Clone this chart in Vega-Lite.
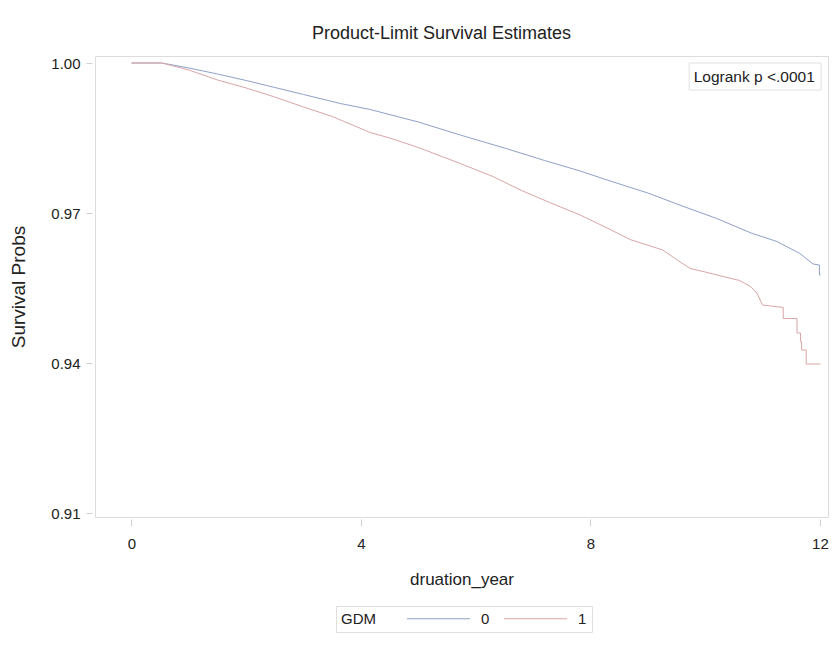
{
  "$schema": "https://vega.github.io/schema/vega-lite/v6.json",
  "width": 733,
  "height": 461,
  "autosize": {"type": "none"},
  "padding": {"left": 95, "top": 56, "right": 7, "bottom": 129},
  "background": "white",
  "config": {
    "font": "Liberation Sans",
    "view": {"stroke": "#dcdcdc", "strokeWidth": 1},
    "axis": {"grid": false, "domain": false, "tickColor": "#d0d0d0", "labelFontSize": 15, "titleFontSize": 17, "titleFontWeight": "normal", "labelColor": "#222", "titleColor": "#222"}
  },
  "title": {"text": "Product-Limit Survival Estimates", "fontSize": 18, "fontWeight": "normal", "color": "#222", "offset": 13, "dx": -20},
  "layer": [
    {
      "data": {"values": [
        {"seq": 1, "year": 0, "surv": 1.0, "GDM": "0"},
        {"seq": 2, "year": 0.53, "surv": 1.0, "GDM": "0"},
        {"seq": 3, "year": 1.0, "surv": 0.999, "GDM": "0"},
        {"seq": 4, "year": 1.5, "surv": 0.9978, "GDM": "0"},
        {"seq": 5, "year": 2.0, "surv": 0.9965, "GDM": "0"},
        {"seq": 6, "year": 2.5, "surv": 0.9951, "GDM": "0"},
        {"seq": 7, "year": 3.0, "surv": 0.9937, "GDM": "0"},
        {"seq": 8, "year": 3.64, "surv": 0.9919, "GDM": "0"},
        {"seq": 9, "year": 4.16, "surv": 0.9907, "GDM": "0"},
        {"seq": 10, "year": 5.0, "surv": 0.9882, "GDM": "0"},
        {"seq": 11, "year": 5.73, "surv": 0.9856, "GDM": "0"},
        {"seq": 12, "year": 6.5, "surv": 0.983, "GDM": "0"},
        {"seq": 13, "year": 7.2, "surv": 0.9805, "GDM": "0"},
        {"seq": 14, "year": 7.82, "surv": 0.9784, "GDM": "0"},
        {"seq": 15, "year": 8.29, "surv": 0.9766, "GDM": "0"},
        {"seq": 16, "year": 9.0, "surv": 0.974, "GDM": "0"},
        {"seq": 17, "year": 9.6, "surv": 0.9714, "GDM": "0"},
        {"seq": 18, "year": 10.2, "surv": 0.9689, "GDM": "0"},
        {"seq": 19, "year": 10.8, "surv": 0.966, "GDM": "0"},
        {"seq": 20, "year": 11.25, "surv": 0.9643, "GDM": "0"},
        {"seq": 21, "year": 11.65, "surv": 0.9619, "GDM": "0"},
        {"seq": 22, "year": 11.88, "surv": 0.9598, "GDM": "0"},
        {"seq": 23, "year": 11.99, "surv": 0.9596, "GDM": "0"},
        {"seq": 24, "year": 11.99, "surv": 0.9576, "GDM": "0"},
        {"seq": 25, "year": 12.01, "surv": 0.9576, "GDM": "0"},
        {"seq": 1, "year": 0, "surv": 1.0, "GDM": "1"},
        {"seq": 2, "year": 0.53, "surv": 1.0, "GDM": "1"},
        {"seq": 3, "year": 1.0, "surv": 0.9986, "GDM": "1"},
        {"seq": 4, "year": 1.5, "surv": 0.9966, "GDM": "1"},
        {"seq": 5, "year": 2.0, "surv": 0.995, "GDM": "1"},
        {"seq": 6, "year": 2.47, "surv": 0.9933, "GDM": "1"},
        {"seq": 7, "year": 3.0, "surv": 0.9912, "GDM": "1"},
        {"seq": 8, "year": 3.5, "surv": 0.9893, "GDM": "1"},
        {"seq": 9, "year": 4.16, "surv": 0.9861, "GDM": "1"},
        {"seq": 10, "year": 4.5, "surv": 0.985, "GDM": "1"},
        {"seq": 11, "year": 5.0, "surv": 0.9831, "GDM": "1"},
        {"seq": 12, "year": 5.73, "surv": 0.9799, "GDM": "1"},
        {"seq": 13, "year": 6.3, "surv": 0.9773, "GDM": "1"},
        {"seq": 14, "year": 6.8, "surv": 0.9745, "GDM": "1"},
        {"seq": 15, "year": 7.29, "surv": 0.9721, "GDM": "1"},
        {"seq": 16, "year": 7.82, "surv": 0.9696, "GDM": "1"},
        {"seq": 17, "year": 8.29, "surv": 0.967, "GDM": "1"},
        {"seq": 18, "year": 8.5, "surv": 0.9658, "GDM": "1"},
        {"seq": 19, "year": 8.69, "surv": 0.9647, "GDM": "1"},
        {"seq": 20, "year": 9.26, "surv": 0.9626, "GDM": "1"},
        {"seq": 21, "year": 9.5, "surv": 0.9607, "GDM": "1"},
        {"seq": 22, "year": 9.74, "surv": 0.9589, "GDM": "1"},
        {"seq": 23, "year": 10.0, "surv": 0.9582, "GDM": "1"},
        {"seq": 24, "year": 10.31, "surv": 0.9573, "GDM": "1"},
        {"seq": 25, "year": 10.6, "surv": 0.9565, "GDM": "1"},
        {"seq": 26, "year": 10.79, "surv": 0.9553, "GDM": "1"},
        {"seq": 27, "year": 10.9, "surv": 0.954, "GDM": "1"},
        {"seq": 28, "year": 11.0, "surv": 0.9516, "GDM": "1"},
        {"seq": 29, "year": 11.36, "surv": 0.9511, "GDM": "1"},
        {"seq": 30, "year": 11.36, "surv": 0.9489, "GDM": "1"},
        {"seq": 31, "year": 11.6, "surv": 0.9489, "GDM": "1"},
        {"seq": 32, "year": 11.6, "surv": 0.946, "GDM": "1"},
        {"seq": 33, "year": 11.66, "surv": 0.946, "GDM": "1"},
        {"seq": 34, "year": 11.66, "surv": 0.9443, "GDM": "1"},
        {"seq": 35, "year": 11.68, "surv": 0.9443, "GDM": "1"},
        {"seq": 36, "year": 11.68, "surv": 0.9426, "GDM": "1"},
        {"seq": 37, "year": 11.76, "surv": 0.9426, "GDM": "1"},
        {"seq": 38, "year": 11.76, "surv": 0.9398, "GDM": "1"},
        {"seq": 39, "year": 12.01, "surv": 0.9398, "GDM": "1"}
      ]},
      "mark": {"type": "line", "strokeWidth": 1},
      "encoding": {
        "x": {"field": "year", "type": "quantitative", "scale": {"domain": [-0.636, 12.14], "nice": false, "zero": false},
              "axis": {"values": [0, 4, 8, 12], "title": "druation_year", "offset": 2, "tickSize": 7, "labelPadding": 10, "titlePadding": 20, "format": "d"}},
        "y": {"field": "surv", "type": "quantitative", "scale": {"domain": [0.9092, 1.0014], "nice": false, "zero": false},
              "axis": {"values": [0.91, 0.94, 0.97, 1.0], "format": ".2f", "title": "Survival Probs", "titleFontSize": 19, "offset": 3, "tickSize": 6, "labelPadding": 6, "titlePadding": 22}},
        "order": {"field": "seq", "type": "quantitative"},
        "color": {"field": "GDM", "type": "nominal", "scale": {"domain": ["0", "1"], "range": ["#8fa0c8", "#dba5a5"]},
                  "legend": {"orient": "none", "legendX": 241, "legendY": 550, "direction": "horizontal", "titleOrient": "left", "title": "GDM", "titleFontSize": 15, "titleFontWeight": "normal", "titleColor": "#222", "titleBaseline": "middle", "labelFontSize": 15, "labelColor": "#222", "symbolType": "M-5,0H5", "symbolSize": 159, "symbolStrokeWidth": 1, "strokeColor": "#e0e0e0", "padding": 5, "titlePadding": 55, "labelOffset": 35, "columnPadding": 11}}
      }
    },
    {
      "data": {"values": [{"x1": 9.72, "x2": 12.02, "y1": 1.0, "y2": 0.9946}]},
      "mark": {"type": "rect", "fill": "white", "stroke": "#e0e0e0", "strokeWidth": 1},
      "encoding": {
        "x": {"field": "x1", "type": "quantitative"},
        "x2": {"field": "x2"},
        "y": {"field": "y1", "type": "quantitative"},
        "y2": {"field": "y2"}
      }
    },
    {
      "data": {"values": [{"x": 11.91, "y": 0.9973, "label": "Logrank p <.0001"}]},
      "mark": {"type": "text", "align": "right", "baseline": "middle", "fontSize": 15.5, "color": "#222"},
      "encoding": {
        "x": {"field": "x", "type": "quantitative"},
        "y": {"field": "y", "type": "quantitative"},
        "text": {"field": "label"}
      }
    }
  ]
}
